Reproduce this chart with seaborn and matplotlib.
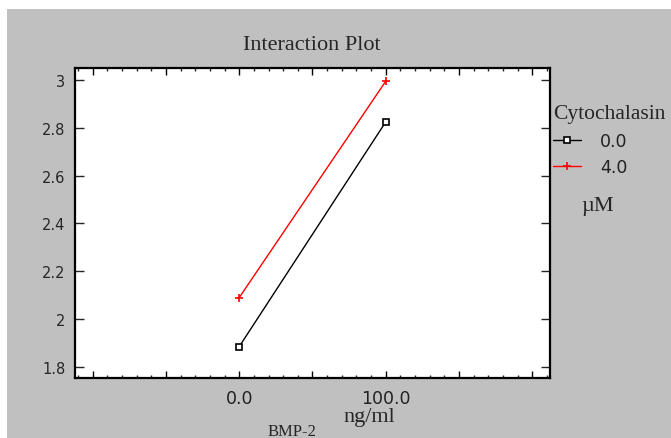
import matplotlib
matplotlib.use('Agg')
import matplotlib.pyplot as plt
import seaborn as sns
import pandas as pd
from matplotlib.patches import Rectangle
from matplotlib.ticker import FixedLocator, MultipleLocator

# ---- data ----
bmp_levels = [0.0, 100.0]
cyto_levels = ['0.0', '4.0']
resp_cyto0 = [1.885, 2.825]
resp_cyto4 = [2.09, 2.995]
x_tick_values = [-100, -50, 0, 50, 100, 150, 200]
x_tick_labels = ['', '', '0.0', '', '100.0', '', '']
y_tick_values = [1.8, 2.0, 2.2, 2.4, 2.6, 2.8, 3.0]
y_tick_labels = ['1.8', '2', '2.2', '2.4', '2.6', '2.8', '3']
series_colors = ['#000000', '#ff0000']
series_markers = ['s', '+']

series_values = [resp_cyto0, resp_cyto4]

sns.set_style('ticks')
plt.rcParams['font.family'] = ['DejaVu Sans']

W, H = 671, 439
fig = plt.figure(figsize=(W / 100, H / 100), dpi=100)
fig.patch.set_facecolor('white')
fig.patches.append(Rectangle((7 / W, 0), 1, 1 - 10 / H, transform=fig.transFigure,
                             facecolor='#c0c0c0', edgecolor='none', zorder=-5))

ax = fig.add_axes([75 / W, 1 - 379 / H, 475 / W, 310 / H])
ax.set_facecolor('white')
ax.set_zorder(1)

handles = []
for lvl, vals, col, mk, ms in zip(cyto_levels, series_values, series_colors,
                                  series_markers, [5, 6]):
    d = pd.DataFrame({'BMP': bmp_levels, 'resp': vals})
    sns.lineplot(data=d, x='BMP', y='resp', color=col, marker=mk,
                 markersize=ms, markerfacecolor='white', markeredgecolor=col,
                 markeredgewidth=1.2, linewidth=1, ax=ax, legend=False)
    handles.append(ax.lines[-1])

ax.set_xlim(-112, 212)
ax.set_ylim(1.754, 3.05)

ax.xaxis.set_major_locator(FixedLocator(x_tick_values))
ax.set_xticklabels(x_tick_labels)
ax.xaxis.set_minor_locator(MultipleLocator(10))
ax.yaxis.set_major_locator(FixedLocator(y_tick_values))
ax.set_yticklabels(y_tick_labels)

ax.tick_params(axis='x', which='major', direction='in', length=5, width=1,
               top=True, bottom=True, labelsize=12.5, pad=8, colors='#000000')
ax.tick_params(axis='x', which='minor', direction='in', length=2.5, width=1,
               top=True, bottom=True)
ax.tick_params(axis='y', which='major', direction='in', length=6.5, width=1,
               left=True, right=True, labelsize=10.5, pad=7)
for lab in ax.get_xticklabels():
    lab.set_color('#222222')

for sp in ax.spines.values():
    sp.set_linewidth(1.6)
    sp.set_color('black')
    sp.set_visible(True)

ax.set_ylabel('')
ax.set_xlabel('BMP-2', family='Liberation Serif', fontsize=12)
ax.xaxis.set_label_coords((292 - 75) / 475, (379 - 432) / 310)
ax.xaxis.label.set_va('center')

fig.text(312 / W, 1 - 46 / H, 'Interaction Plot', ha='center', va='center',
         family='Liberation Serif', fontsize=16)
fig.text(369 / W, 1 - 418 / H, 'ng/ml', ha='center', va='center',
         family='Liberation Serif', fontsize=16)
fig.text(598 / W, 1 - 207 / H, 'µM', ha='center', va='center',
         family='Liberation Serif', fontsize=16)

leg = ax.legend(handles=handles, labels=cyto_levels, title='Cytochalasin',
                loc='upper left', bbox_to_anchor=(553 / W, 1 - 105 / H),
                bbox_transform=fig.transFigure, frameon=False,
                borderpad=0, borderaxespad=0, handlelength=1.6,
                handletextpad=1.1, labelspacing=0.5, fontsize=12.5,
                alignment='left',
                title_fontproperties={'family': 'Liberation Serif', 'size': 15.5})
for t in leg.get_texts():
    t.set_color('#222222')

fig.savefig('out.png', dpi=100, facecolor=fig.get_facecolor())
